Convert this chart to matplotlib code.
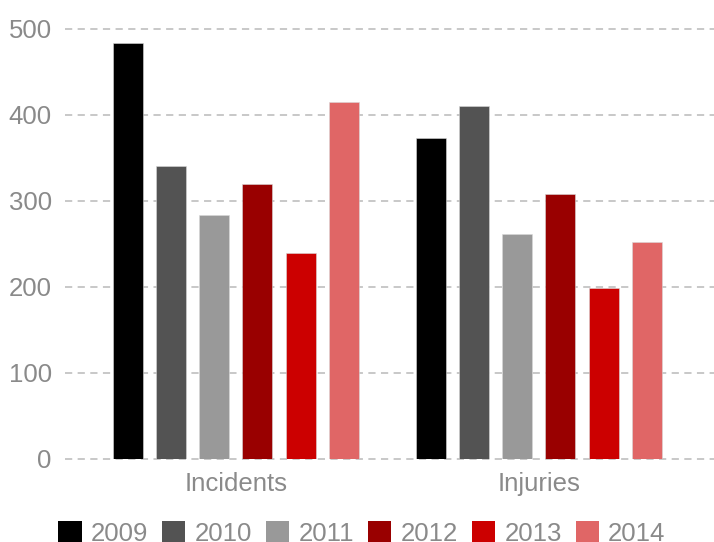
import numpy as np
import matplotlib.pyplot as plt
from matplotlib.patches import Patch

categories = ["Incidents", "Injuries"]
years = ["2009", "2010", "2011", "2012", "2013", "2014"]
values_2009 = [484, 373]
values_2010 = [341, 411]
values_2011 = [284, 262]
values_2012 = [320, 308]
values_2013 = [240, 199]
values_2014 = [415, 252]
yticks = [0, 100, 200, 300, 400, 500]

colors = ["#000000", "#535353", "#999999", "#990000", "#cc0000", "#e06666"]
text_color = "#8a8a8a"
grid_color = "#c4c4c4"

plt.rcParams["font.family"] = ["Liberation Sans", "DejaVu Sans"]

series = [values_2009, values_2010, values_2011, values_2012, values_2013, values_2014]

W, H = 714, 542
fig = plt.figure(figsize=(W / 100, H / 100), dpi=100)
left, right, bottom, top = 65, 714, 459, 29
ax = fig.add_axes([left / W, (H - bottom) / H, (right - left) / W, (bottom - top) / H])

x = np.arange(len(categories))
pitch = 0.1426
width = 0.099
for i, vals in enumerate(series):
    ax.bar(x + (i - 2.5) * pitch, vals, width=width, color=colors[i],
           edgecolor="#d8d8d8", linewidth=0.4, zorder=3)

for t in yticks:
    ax.axhline(t, color=grid_color, linestyle=(0, (4, 3)), linewidth=1.3,
               clip_on=False, zorder=1)

ax.set_xlim(-0.564, 1.578)
ax.set_ylim(0, 500)
ax.set_yticks(yticks)
ax.set_xticks(x)
ax.set_xticklabels(categories)
ax.tick_params(axis="y", length=0, pad=9.5, labelsize=18.5, labelcolor=text_color)
ax.tick_params(axis="x", length=0, pad=9.5, labelsize=18.5, labelcolor=text_color)
for s in ax.spines.values():
    s.set_visible(False)

handles = [Patch(facecolor=c, edgecolor="none") for c in colors]
fig.legend(handles, years, loc="upper center", bbox_to_anchor=(362 / W, (H - 521) / H),
           ncol=6, frameon=False, fontsize=18.5, labelcolor=text_color,
           handlelength=0.9, handleheight=0.9, handletextpad=0.36,
           columnspacing=0.55, borderpad=0, borderaxespad=0)

fig.savefig("out.png", dpi=100)
